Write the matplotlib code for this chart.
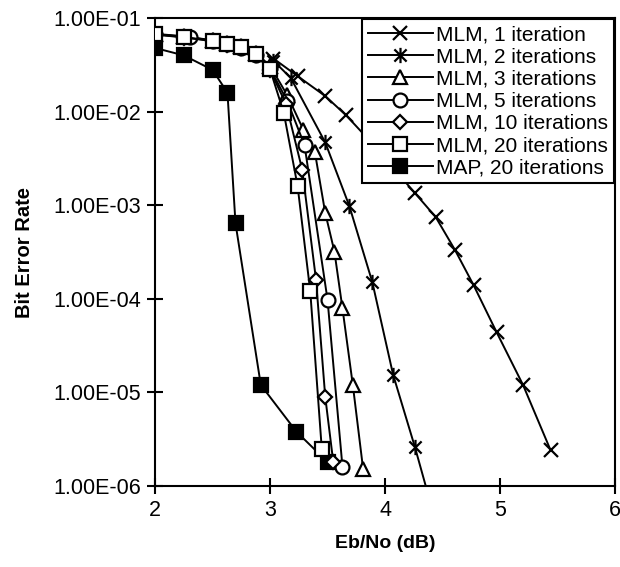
import matplotlib
matplotlib.use('Agg')
import matplotlib.pyplot as plt
from matplotlib.path import Path
from matplotlib.ticker import FixedLocator, FuncFormatter

plt.rcParams['font.family'] = ['Liberation Sans', 'DejaVu Sans']

# Eb/No (dB) and bit error rate for each curve
x_mlm1 = [3.03, 3.24, 3.48, 3.66, 3.86, 4.06, 4.26, 4.44, 4.61, 4.77, 4.97, 5.20, 5.44]
ber_mlm1 = [3.7e-2, 2.4e-2, 1.47e-2, 9.2e-3, 5.0e-3, 2.6e-3, 1.35e-3, 7.5e-4, 3.3e-4, 1.4e-4, 4.4e-5, 1.2e-5, 2.4e-6]

x_mlm2 = [3.03, 3.18, 3.48, 3.69, 3.89, 4.07, 4.26, 4.46]
ber_mlm2 = [3.5e-2, 2.3e-2, 4.7e-3, 9.8e-4, 1.5e-4, 1.55e-5, 2.6e-6, 3.4e-7]

x_mlm3 = [2.0, 2.25, 2.5, 2.63, 2.75, 2.88, 3.0, 3.15, 3.29, 3.39, 3.48, 3.56, 3.63, 3.72, 3.81]
ber_mlm3 = [6.8e-2, 6.4e-2, 5.8e-2, 5.4e-2, 5.0e-2, 4.2e-2, 3.1e-2, 1.5e-2, 6.4e-3, 3.7e-3, 8.3e-4, 3.2e-4, 7.9e-5, 1.2e-5, 1.5e-6]

x_mlm5 = [2.0, 2.3, 2.5, 2.63, 2.75, 2.88, 3.0, 3.15, 3.30, 3.50, 3.63]
ber_mlm5 = [6.7e-2, 6.3e-2, 5.7e-2, 5.3e-2, 4.8e-2, 4.0e-2, 2.9e-2, 1.3e-2, 4.4e-3, 9.8e-5, 1.6e-6]

x_mlm10 = [2.0, 2.25, 2.5, 2.63, 2.75, 2.88, 3.0, 3.14, 3.28, 3.40, 3.48, 3.55]
ber_mlm10 = [6.7e-2, 6.2e-2, 5.7e-2, 5.2e-2, 4.8e-2, 4.0e-2, 2.8e-2, 1.2e-2, 2.4e-3, 1.6e-4, 9.0e-6, 1.8e-6]

x_mlm20 = [2.0, 2.25, 2.5, 2.63, 2.75, 2.88, 3.0, 3.12, 3.24, 3.35, 3.45]
ber_mlm20 = [6.7e-2, 6.3e-2, 5.7e-2, 5.3e-2, 4.9e-2, 4.1e-2, 2.85e-2, 9.7e-3, 1.6e-3, 1.2e-4, 2.5e-6]

x_map = [2.0, 2.25, 2.5, 2.63, 2.7, 2.92, 3.23, 3.5]
ber_map = [4.8e-2, 4.0e-2, 2.8e-2, 1.6e-2, 6.4e-4, 1.2e-5, 3.8e-6, 1.8e-6]

y_ticks = [1e-6, 1e-5, 1e-4, 1e-3, 1e-2, 1e-1]
x_ticks = [2, 3, 4, 5, 6]

# "x" with a vertical bar through it, like the 2 iterations marker
star_marker = Path([(-1, -1), (1, 1), (-1, 1), (1, -1), (0, -1.25), (0, 1.25)],
                   [Path.MOVETO, Path.LINETO, Path.MOVETO, Path.LINETO, Path.MOVETO, Path.LINETO])

fig = plt.figure(figsize=(6.2, 5.67), dpi=100)
ax = fig.add_axes([0.25, 0.143, 0.742, 0.825])

lw = 1.4
mew = 1.6
ax.plot(x_map, ber_map, c='black', lw=lw, marker='s', ms=9.5, mfc='black', mec='black', mew=mew, zorder=2, label='MAP, 20 iterations')
ax.plot(x_mlm1, ber_mlm1, c='black', lw=lw, marker='x', ms=10, mec='black', mew=mew, zorder=3, label='MLM, 1 iteration')
ax.plot(x_mlm2, ber_mlm2, c='black', lw=lw, marker=star_marker, ms=11, mfc='none', mec='black', mew=mew, zorder=3, label='MLM, 2 iterations')
ax.plot(x_mlm3, ber_mlm3, c='black', lw=lw, marker='^', ms=10, mfc='white', mec='black', mew=mew, zorder=4, label='MLM, 3 iterations')
ax.plot(x_mlm5, ber_mlm5, c='black', lw=lw, marker='o', ms=10, mfc='white', mec='black', mew=mew, zorder=5, label='MLM, 5 iterations')
ax.plot(x_mlm10, ber_mlm10, c='black', lw=lw, marker='D', ms=7.5, mfc='white', mec='black', mew=mew, zorder=6, label='MLM, 10 iterations')
ax.plot(x_mlm20, ber_mlm20, c='black', lw=lw, marker='s', ms=9.5, mfc='white', mec='black', mew=mew, zorder=7, label='MLM, 20 iterations')

ax.set_yscale('log')
ax.set_xlim(2, 6)
ax.set_ylim(1e-6, 1e-1)
ax.yaxis.set_major_locator(FixedLocator(y_ticks))
ax.yaxis.set_minor_locator(FixedLocator([]))
ax.yaxis.set_major_formatter(FuncFormatter(lambda v, p: f"{v:.2E}"))
ax.set_xticks(x_ticks)
ax.set_xticklabels([str(t) for t in x_ticks])
ax.tick_params(direction='inout', length=12, width=1.5, labelsize=15.5, pad=4)

for s in ax.spines.values():
    s.set_linewidth(1.5)

ax.set_xlabel('Eb/No (dB)', fontsize=14, fontweight='bold', labelpad=10)
ax.set_ylabel('Bit Error Rate', fontsize=14.5, fontweight='bold', labelpad=14)

handles, labels = ax.get_legend_handles_labels()
order = [1, 2, 3, 4, 5, 6, 0]
leg = ax.legend([handles[i] for i in order], [labels[i] for i in order],
                loc='upper right', bbox_to_anchor=(1.0, 1.0), borderaxespad=0.05,
                fontsize=15, labelspacing=0.15, handlelength=3.1, handletextpad=0.15,
                borderpad=0.3, fancybox=False, framealpha=1, edgecolor='black')
leg.get_frame().set_linewidth(1.5)
leg.set_zorder(10)

fig.savefig('out.png', dpi=100)
